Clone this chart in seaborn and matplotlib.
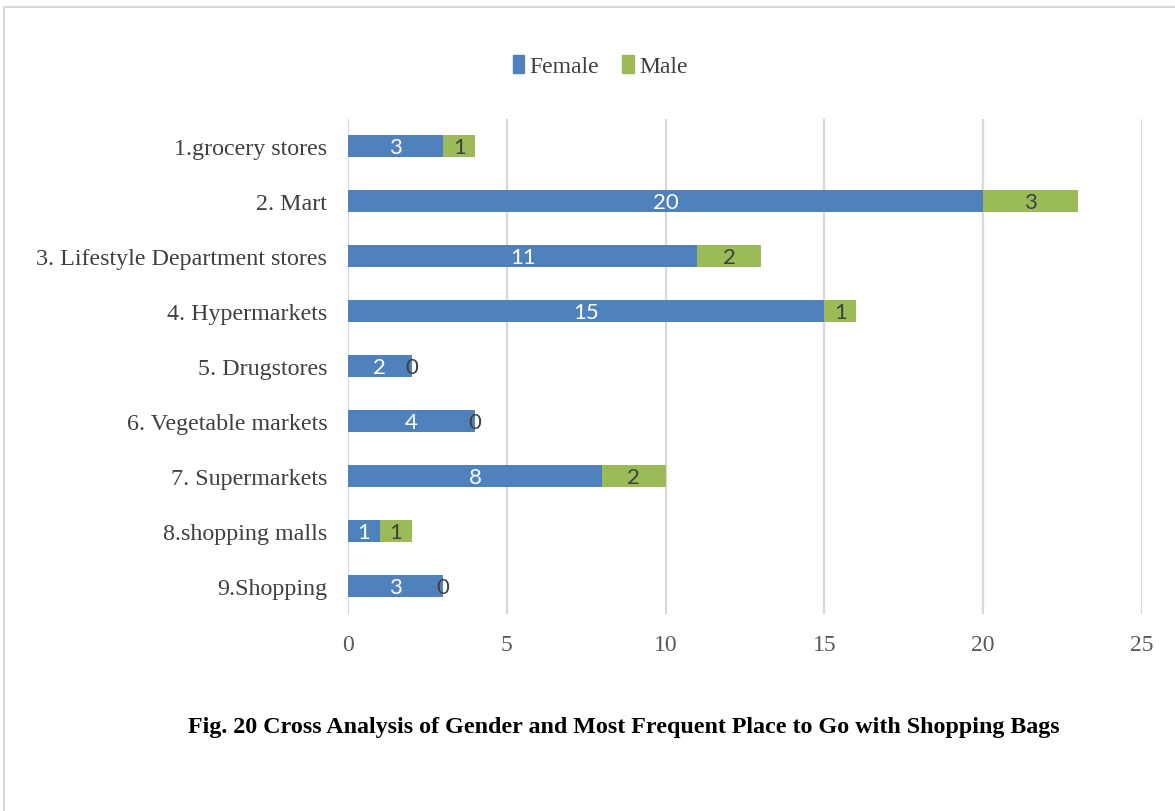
import matplotlib
matplotlib.use("Agg")
import matplotlib.pyplot as plt
import matplotlib.patches as mpatches
import numpy as np
import pandas as pd
import seaborn as sns

categories = [
    "1.grocery stores",
    "2. Mart",
    "3. Lifestyle Department stores",
    "4. Hypermarkets",
    "5. Drugstores",
    "6. Vegetable markets",
    "7. Supermarkets",
    "8.shopping malls",
    "9.Shopping",
]
female = [3, 20, 11, 15, 2, 4, 8, 1, 3]
male = [1, 3, 2, 1, 0, 0, 2, 1, 0]
x_ticks = [0, 5, 10, 15, 20, 25]
title = "Fig. 20 Cross Analysis of Gender and Most Frequent Place to Go with Shopping Bags"

BLUE = "#4f81bd"
GREEN = "#9bbb59"
GRID = "#d9d9d9"
SERIF = "Liberation Serif"
LABEL_FONT = "Lato"

df = pd.DataFrame({"place": categories, "Female": female, "Male": male})
df["Total"] = df["Female"] + df["Male"]

sns.set_theme(style="white")
plt.rcParams["font.family"] = [SERIF, "DejaVu Serif"]

W, H = 1175, 812
fig = plt.figure(figsize=(W / 100, H / 100), dpi=100)
ax = fig.add_axes([348 / W, 1 - 614.5 / H, (1142 - 348) / W, (614.5 - 119.5) / H])

# stacked bars: total (male segment) underneath, female on top
sns.barplot(data=df, y="place", x="Total", color=GREEN, orient="h",
            width=0.4, ax=ax, saturation=1, zorder=3)
sns.barplot(data=df, y="place", x="Female", color=BLUE, orient="h",
            width=0.4, ax=ax, saturation=1, zorder=4)

for p in ax.patches:
    p.set_edgecolor("none")

# value labels
for i, (f, m) in enumerate(zip(df["Female"], df["Male"])):
    ax.text(f / 2, i + 0.02, str(f), ha="center", va="center", color="white",
            fontsize=16, family=LABEL_FONT, zorder=6)
    ax.text(f + m / 2, i + 0.02, str(m), ha="center", va="center", color="#404040",
            fontsize=16, family=LABEL_FONT, zorder=6)

ax.set_xlim(0, 25)
ax.set_ylim(len(categories) - 0.5, -0.5)
ax.set_xticks(x_ticks)
ax.set_xticklabels([str(t) for t in x_ticks])
ax.xaxis.grid(True, color=GRID, linewidth=1.6, zorder=0)
ax.yaxis.grid(False)
ax.set_axisbelow(True)
for s in ax.spines.values():
    s.set_visible(False)
ax.set_xlabel("")
ax.set_ylabel("")
ax.tick_params(axis="x", length=0, pad=15, labelsize=17, labelcolor="#595959")
ax.tick_params(axis="y", length=0, pad=15, labelsize=17.3, labelcolor="#404040")
for lbl in ax.get_yticklabels() + ax.get_xticklabels():
    lbl.set_family(SERIF)

# legend
handles = [mpatches.Patch(color=BLUE, label="Female"),
           mpatches.Patch(color=GREEN, label="Male")]
fig.legend(handles=handles, loc="center", bbox_to_anchor=(600 / W, 1 - 67 / H),
           ncol=2, frameon=False, handlelength=0.5, handleheight=0.8,
           handletextpad=0.2, columnspacing=1.0,
           prop={"family": SERIF, "size": 17}, labelcolor="#404040")

fig.text(624 / W, 1 - 728 / H, title, ha="center", va="center",
         fontsize=17.3, fontweight="bold", family=SERIF, color="black")

# outer frame
fig.patches.append(mpatches.Rectangle((4 / W, -0.05), 1.1, 1 - 8 / H + 0.05,
                                      transform=fig.transFigure, fill=False,
                                      edgecolor=GRID, linewidth=1.5))

fig.savefig("out.png", dpi=100)
